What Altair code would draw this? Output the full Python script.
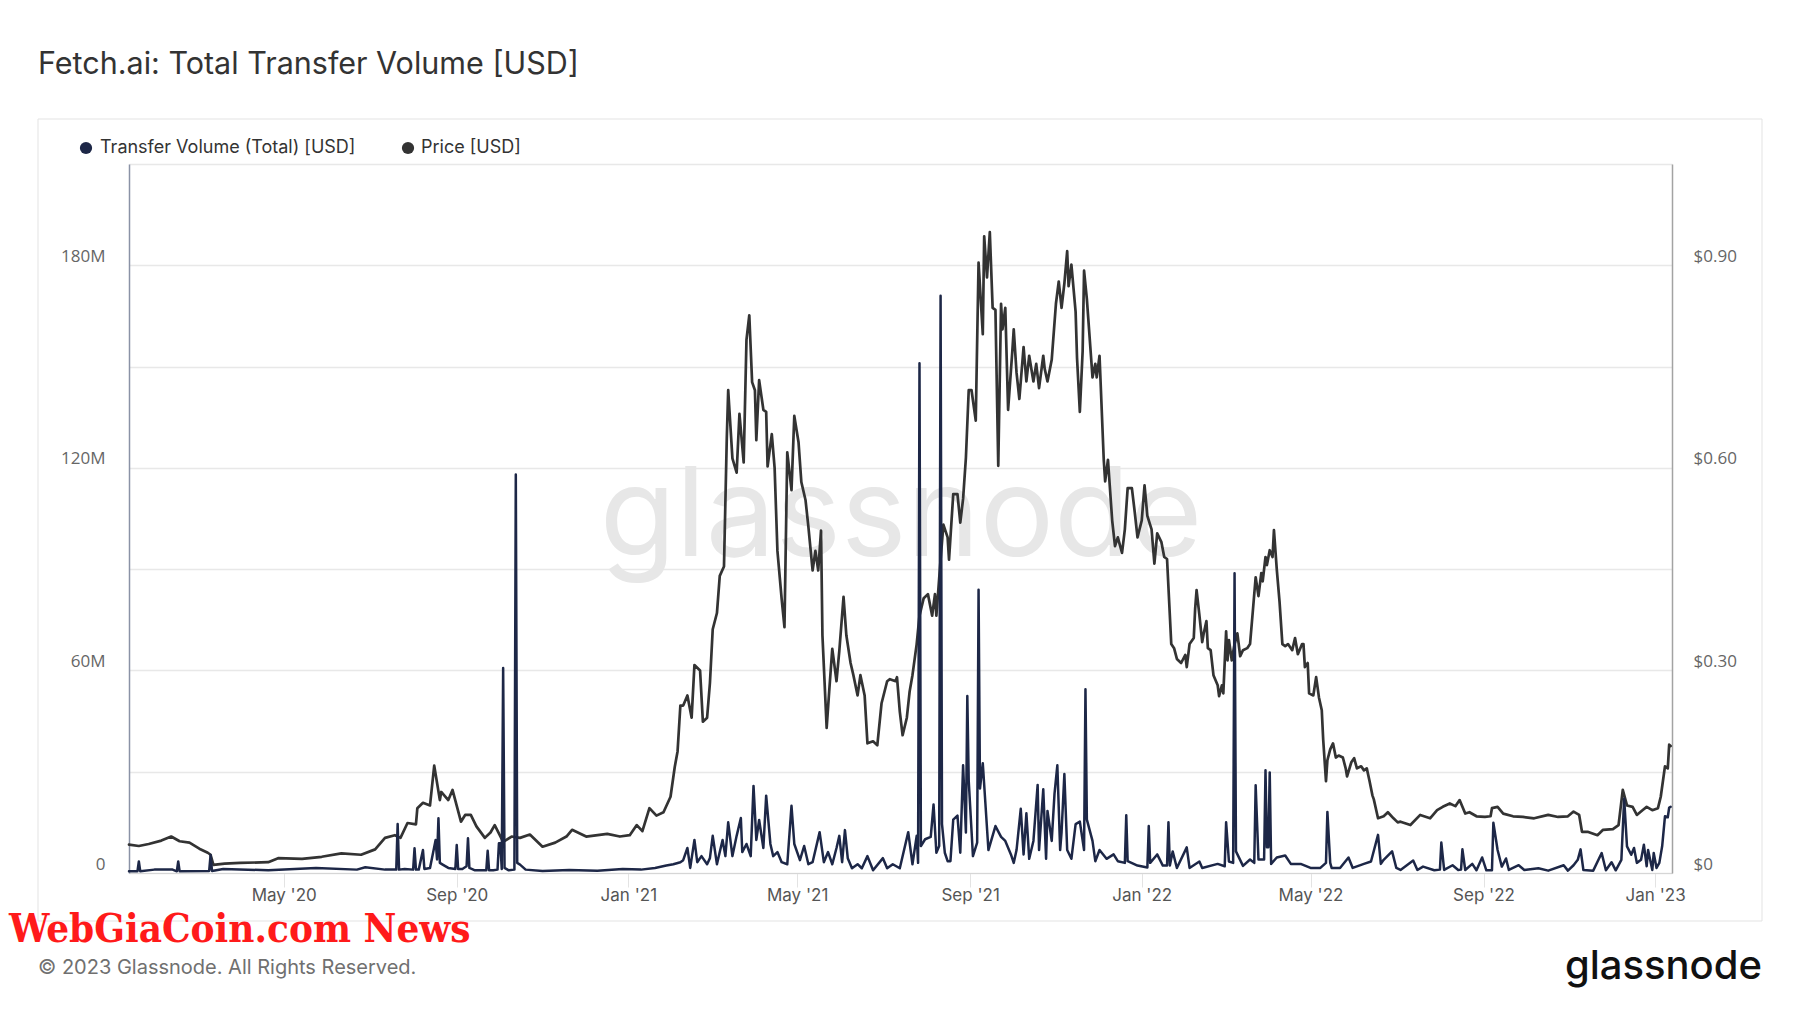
import altair as alt
import pandas as pd

TITLE = "Fetch.ai: Total Transfer Volume [USD]"
SERIES = ["Transfer Volume (Total) [USD]", "Price [USD]"]
COLORS = ["#1d2747", "#333333"]
FOOTER = "\u00a9 2023 Glassnode. All Rights Reserved."
BRAND = "glassnode"
STAMP = "WebGiaCoin.com News"

# Price [USD] (right axis)
price_points = [
    ("2020-01-12", 0.042), ("2020-01-19", 0.040), ("2020-01-26", 0.043), ("2020-02-04", 0.048),
    ("2020-02-11", 0.054), ("2020-02-17", 0.047), ("2020-02-24", 0.045), ("2020-03-02", 0.036),
    ("2020-03-08", 0.030), ("2020-03-10", 0.027), ("2020-03-12", 0.012), ("2020-03-20", 0.014),
    ("2020-03-31", 0.015), ("2020-04-20", 0.016), ("2020-04-27", 0.022), ("2020-05-14", 0.021),
    ("2020-05-28", 0.024), ("2020-06-11", 0.029), ("2020-06-25", 0.027), ("2020-07-05", 0.035),
    ("2020-07-12", 0.052), ("2020-07-19", 0.056), ("2020-07-23", 0.052), ("2020-07-28", 0.074),
    ("2020-08-03", 0.072), ("2020-08-04", 0.096), ("2020-08-08", 0.104), ("2020-08-13", 0.100),
    ("2020-08-16", 0.159), ("2020-08-20", 0.108), ("2020-08-21", 0.120), ("2020-08-26", 0.108),
    ("2020-08-29", 0.123), ("2020-09-04", 0.076), ("2020-09-07", 0.086), ("2020-09-11", 0.086),
    ("2020-09-15", 0.069), ("2020-09-21", 0.052), ("2020-09-25", 0.060), ("2020-09-28", 0.071),
    ("2020-10-04", 0.046), ("2020-10-10", 0.054), ("2020-10-16", 0.052), ("2020-10-23", 0.057),
    ("2020-11-01", 0.039), ("2020-11-10", 0.045), ("2020-11-18", 0.054), ("2020-11-22", 0.064),
    ("2020-12-02", 0.054), ("2020-12-17", 0.058), ("2020-12-26", 0.054), ("2021-01-02", 0.056),
    ("2021-01-07", 0.071), ("2021-01-11", 0.062), ("2021-01-16", 0.096), ("2021-01-21", 0.085),
    ("2021-01-26", 0.090), ("2021-01-31", 0.113), ("2021-02-03", 0.157), ("2021-02-05", 0.180),
    ("2021-02-07", 0.248), ("2021-02-09", 0.248), ("2021-02-12", 0.263), ("2021-02-15", 0.230),
    ("2021-02-17", 0.308), ("2021-02-21", 0.300), ("2021-02-23", 0.224), ("2021-02-26", 0.230),
    ("2021-02-28", 0.281), ("2021-03-02", 0.361), ("2021-03-05", 0.385), ("2021-03-07", 0.440),
    ("2021-03-10", 0.454), ("2021-03-12", 0.644), ("2021-03-13", 0.715), ("2021-03-16", 0.614),
    ("2021-03-18", 0.600), ("2021-03-19", 0.593), ("2021-03-21", 0.680), ("2021-03-24", 0.608),
    ("2021-03-26", 0.790), ("2021-03-28", 0.826), ("2021-03-30", 0.727), ("2021-04-01", 0.715),
    ("2021-04-02", 0.641), ("2021-04-04", 0.730), ("2021-04-07", 0.686), ("2021-04-09", 0.683),
    ("2021-04-10", 0.602), ("2021-04-13", 0.650), ("2021-04-15", 0.600), ("2021-04-17", 0.477),
    ("2021-04-20", 0.406), ("2021-04-22", 0.364), ("2021-04-24", 0.623), ("2021-04-27", 0.567),
    ("2021-04-29", 0.677), ("2021-05-02", 0.638), ("2021-05-04", 0.579), ("2021-05-07", 0.552),
    ("2021-05-09", 0.513), ("2021-05-12", 0.448), ("2021-05-14", 0.477), ("2021-05-16", 0.448),
    ("2021-05-18", 0.507), ("2021-05-19", 0.352), ("2021-05-22", 0.215), ("2021-05-24", 0.275),
    ("2021-05-26", 0.332), ("2021-05-29", 0.284), ("2021-05-31", 0.329), ("2021-06-03", 0.409),
    ("2021-06-05", 0.352), ("2021-06-08", 0.311), ("2021-06-10", 0.293), ("2021-06-13", 0.263),
    ("2021-06-15", 0.293), ("2021-06-18", 0.263), ("2021-06-20", 0.192), ("2021-06-24", 0.195),
    ("2021-06-27", 0.189), ("2021-06-30", 0.251), ("2021-07-04", 0.284), ("2021-07-06", 0.287),
    ("2021-07-10", 0.284), ("2021-07-11", 0.290), ("2021-07-13", 0.239), ("2021-07-15", 0.204),
    ("2021-07-18", 0.230), ("2021-07-20", 0.269), ("2021-07-22", 0.293), ("2021-07-25", 0.339),
    ("2021-07-27", 0.381), ("2021-07-30", 0.407), ("2021-08-02", 0.413), ("2021-08-05", 0.381),
    ("2021-08-07", 0.413), ("2021-08-08", 0.381), ("2021-08-11", 0.464), ("2021-08-13", 0.516),
    ("2021-08-16", 0.497), ("2021-08-17", 0.464), ("2021-08-20", 0.561), ("2021-08-23", 0.561),
    ("2021-08-25", 0.519), ("2021-08-27", 0.554), ("2021-08-29", 0.615), ("2021-08-31", 0.715),
    ("2021-09-02", 0.715), ("2021-09-05", 0.670), ("2021-09-07", 0.904), ("2021-09-10", 0.798),
    ("2021-09-11", 0.943), ("2021-09-13", 0.882), ("2021-09-15", 0.949), ("2021-09-17", 0.837),
    ("2021-09-19", 0.834), ("2021-09-21", 0.603), ("2021-09-23", 0.843), ("2021-09-24", 0.805),
    ("2021-09-26", 0.837), ("2021-09-28", 0.686), ("2021-10-01", 0.773), ("2021-10-02", 0.805),
    ("2021-10-04", 0.741), ("2021-10-06", 0.702), ("2021-10-09", 0.779), ("2021-10-11", 0.728),
    ("2021-10-13", 0.766), ("2021-10-16", 0.728), ("2021-10-18", 0.754), ("2021-10-20", 0.718),
    ("2021-10-23", 0.766), ("2021-10-24", 0.747), ("2021-10-26", 0.728), ("2021-10-29", 0.760),
    ("2021-11-01", 0.843), ("2021-11-03", 0.876), ("2021-11-05", 0.837), ("2021-11-07", 0.873),
    ("2021-11-09", 0.921), ("2021-11-10", 0.869), ("2021-11-12", 0.901), ("2021-11-15", 0.831),
    ("2021-11-16", 0.763), ("2021-11-18", 0.683), ("2021-11-20", 0.773), ("2021-11-21", 0.892),
    ("2021-11-23", 0.850), ("2021-11-25", 0.792), ("2021-11-27", 0.734), ("2021-11-29", 0.754),
    ("2021-11-30", 0.734), ("2021-12-02", 0.766), ("2021-12-05", 0.612), ("2021-12-06", 0.580),
    ("2021-12-08", 0.612), ("2021-12-11", 0.522), ("2021-12-13", 0.484), ("2021-12-15", 0.497),
    ("2021-12-18", 0.474), ("2021-12-20", 0.509), ("2021-12-22", 0.570), ("2021-12-25", 0.570),
    ("2021-12-27", 0.535), ("2021-12-29", 0.497), ("2022-01-01", 0.522), ("2022-01-03", 0.574),
    ("2022-01-05", 0.529), ("2022-01-08", 0.509), ("2022-01-10", 0.458), ("2022-01-12", 0.503),
    ("2022-01-15", 0.490), ("2022-01-17", 0.468), ("2022-01-19", 0.465), ("2022-01-22", 0.339),
    ("2022-01-24", 0.333), ("2022-01-26", 0.317), ("2022-01-29", 0.311), ("2022-02-01", 0.323),
    ("2022-02-02", 0.305), ("2022-02-04", 0.339), ("2022-02-07", 0.348), ("2022-02-08", 0.392),
    ("2022-02-09", 0.419), ("2022-02-11", 0.382), ("2022-02-13", 0.342), ("2022-02-14", 0.354),
    ("2022-02-16", 0.373), ("2022-02-17", 0.333), ("2022-02-19", 0.330), ("2022-02-21", 0.293),
    ("2022-02-24", 0.278), ("2022-02-25", 0.262), ("2022-02-27", 0.278), ("2022-02-28", 0.266),
    ("2022-03-02", 0.358), ("2022-03-03", 0.315), ("2022-03-04", 0.345), ("2022-03-06", 0.315),
    ("2022-03-08", 0.339), ("2022-03-10", 0.355), ("2022-03-12", 0.321), ("2022-03-14", 0.330),
    ("2022-03-17", 0.333), ("2022-03-19", 0.339), ("2022-03-21", 0.388), ("2022-03-23", 0.438),
    ("2022-03-25", 0.410), ("2022-03-27", 0.444), ("2022-03-28", 0.432), ("2022-03-30", 0.468),
    ("2022-03-31", 0.456), ("2022-04-02", 0.478), ("2022-04-04", 0.468), ("2022-04-05", 0.508),
    ("2022-04-07", 0.450), ("2022-04-09", 0.401), ("2022-04-11", 0.339), ("2022-04-13", 0.336),
    ("2022-04-15", 0.339), ("2022-04-18", 0.330), ("2022-04-20", 0.348), ("2022-04-22", 0.324),
    ("2022-04-25", 0.339), ("2022-04-26", 0.339), ("2022-04-27", 0.305), ("2022-04-29", 0.311),
    ("2022-04-30", 0.266), ("2022-05-03", 0.263), ("2022-05-05", 0.290), ("2022-05-07", 0.260),
    ("2022-05-09", 0.241), ("2022-05-10", 0.198), ("2022-05-12", 0.136), ("2022-05-13", 0.167),
    ("2022-05-15", 0.183), ("2022-05-17", 0.192), ("2022-05-19", 0.171), ("2022-05-21", 0.174),
    ("2022-05-24", 0.171), ("2022-05-26", 0.155), ("2022-05-27", 0.143), ("2022-05-30", 0.164),
    ("2022-06-01", 0.170), ("2022-06-03", 0.155), ("2022-06-06", 0.158), ("2022-06-08", 0.152),
    ("2022-06-10", 0.155), ("2022-06-12", 0.136), ("2022-06-14", 0.115), ("2022-06-15", 0.109),
    ("2022-06-18", 0.081), ("2022-06-22", 0.084), ("2022-06-25", 0.090), ("2022-06-29", 0.081),
    ("2022-07-02", 0.075), ("2022-07-04", 0.076), ("2022-07-11", 0.071), ("2022-07-18", 0.086),
    ("2022-07-25", 0.081), ("2022-07-30", 0.093), ("2022-08-03", 0.098), ("2022-08-08", 0.103),
    ("2022-08-12", 0.099), ("2022-08-15", 0.108), ("2022-08-19", 0.088), ("2022-08-22", 0.090),
    ("2022-08-27", 0.084), ("2022-09-02", 0.083), ("2022-09-06", 0.084), ("2022-09-07", 0.096),
    ("2022-09-11", 0.098), ("2022-09-15", 0.088), ("2022-09-22", 0.084), ("2022-09-29", 0.083),
    ("2022-10-07", 0.081), ("2022-10-17", 0.086), ("2022-10-24", 0.083), ("2022-10-31", 0.084),
    ("2022-11-04", 0.091), ("2022-11-08", 0.086), ("2022-11-10", 0.061), ("2022-11-14", 0.061),
    ("2022-11-21", 0.056), ("2022-11-25", 0.064), ("2022-12-02", 0.065), ("2022-12-06", 0.071),
    ("2022-12-09", 0.123), ("2022-12-12", 0.100), ("2022-12-16", 0.098), ("2022-12-19", 0.086),
    ("2022-12-23", 0.093), ("2022-12-26", 0.098), ("2022-12-30", 0.093), ("2023-01-03", 0.096),
    ("2023-01-05", 0.113), ("2023-01-07", 0.143), ("2023-01-08", 0.158), ("2023-01-10", 0.155),
    ("2023-01-11", 0.190), ("2023-01-12", 0.188),
]

# Transfer Volume (Total), millions of USD (left axis)
volume_points = [
    ("2020-01-12", 0.5), ("2020-01-18", 0.5), ("2020-01-19", 3.4), ("2020-01-20", 0.5),
    ("2020-01-30", 1.0), ("2020-02-12", 1.0), ("2020-02-15", 0.5), ("2020-02-16", 3.4),
    ("2020-02-17", 0.5), ("2020-03-09", 0.6), ("2020-03-10", 5.3), ("2020-03-11", 0.6),
    ("2020-03-19", 1.2), ("2020-04-20", 0.8), ("2020-05-24", 1.5), ("2020-06-22", 1.0),
    ("2020-06-28", 1.7), ("2020-07-12", 1.0), ("2020-07-20", 1.0), ("2020-07-21", 14.5),
    ("2020-07-22", 1.0), ("2020-07-26", 1.2), ("2020-08-01", 1.0), ("2020-08-02", 7.3),
    ("2020-08-03", 1.0), ("2020-08-05", 1.0), ("2020-08-08", 6.8), ("2020-08-09", 1.2),
    ("2020-08-13", 1.5), ("2020-08-17", 9.8), ("2020-08-18", 4.0), ("2020-08-19", 16.2),
    ("2020-08-20", 3.0), ("2020-08-22", 2.5), ("2020-08-26", 1.5), ("2020-08-31", 1.2),
    ("2020-09-01", 8.3), ("2020-09-02", 1.2), ("2020-09-05", 1.2), ("2020-09-08", 2.0),
    ("2020-09-09", 10.3), ("2020-09-10", 1.5), ("2020-09-14", 0.8), ("2020-09-22", 0.8),
    ("2020-09-23", 6.6), ("2020-09-24", 0.8), ("2020-09-27", 0.8), ("2020-09-30", 1.0),
    ("2020-10-01", 8.8), ("2020-10-02", 8.8), ("2020-10-03", 1.2), ("2020-10-04", 60.7),
    ("2020-10-05", 1.5), ("2020-10-08", 0.8), ("2020-10-12", 1.0), ("2020-10-13", 118.0),
    ("2020-10-14", 3.0), ("2020-10-16", 2.5), ("2020-10-20", 1.0), ("2020-11-01", 0.6),
    ("2020-11-20", 0.9), ("2020-12-10", 0.7), ("2020-12-28", 1.2), ("2021-01-10", 1.0),
    ("2021-01-20", 1.5), ("2021-01-28", 2.2), ("2021-02-02", 2.6), ("2021-02-07", 3.2),
    ("2021-02-09", 3.8), ("2021-02-12", 7.4), ("2021-02-14", 1.5), ("2021-02-17", 9.8),
    ("2021-02-19", 3.2), ("2021-02-22", 5.0), ("2021-02-26", 2.6), ("2021-02-28", 4.4),
    ("2021-03-02", 11.0), ("2021-03-05", 2.6), ("2021-03-07", 6.2), ("2021-03-09", 9.8),
    ("2021-03-11", 5.0), ("2021-03-13", 15.0), ("2021-03-16", 5.0), ("2021-03-19", 11.0),
    ("2021-03-22", 16.3), ("2021-03-23", 6.2), ("2021-03-26", 8.6), ("2021-03-29", 5.0),
    ("2021-03-31", 25.8), ("2021-04-02", 9.8), ("2021-04-04", 15.7), ("2021-04-07", 7.4),
    ("2021-04-09", 22.9), ("2021-04-12", 8.6), ("2021-04-14", 5.0), ("2021-04-17", 6.2),
    ("2021-04-20", 3.2), ("2021-04-24", 2.6), ("2021-04-27", 19.9), ("2021-04-29", 8.6),
    ("2021-05-03", 3.8), ("2021-05-06", 8.0), ("2021-05-09", 2.6), ("2021-05-12", 3.2),
    ("2021-05-17", 12.1), ("2021-05-20", 3.2), ("2021-05-23", 6.2), ("2021-05-26", 2.6),
    ("2021-05-29", 7.4), ("2021-05-31", 11.0), ("2021-06-02", 3.2), ("2021-06-04", 12.7),
    ("2021-06-06", 4.4), ("2021-06-09", 1.4), ("2021-06-13", 2.6), ("2021-06-16", 1.4),
    ("2021-06-20", 5.0), ("2021-06-24", 0.8), ("2021-07-01", 4.4), ("2021-07-04", 1.4),
    ("2021-07-08", 2.6), ("2021-07-13", 1.4), ("2021-07-19", 12.1), ("2021-07-22", 2.6),
    ("2021-07-25", 11.0), ("2021-07-26", 3.0), ("2021-07-27", 151.0), ("2021-07-28", 8.0),
    ("2021-07-31", 10.0), ("2021-08-04", 10.7), ("2021-08-06", 20.3), ("2021-08-08", 6.0),
    ("2021-08-10", 8.0), ("2021-08-11", 171.0), ("2021-08-12", 14.5), ("2021-08-14", 6.0),
    ("2021-08-16", 3.5), ("2021-08-18", 3.5), ("2021-08-20", 15.8), ("2021-08-23", 17.0),
    ("2021-08-25", 6.0), ("2021-08-27", 31.9), ("2021-08-29", 12.0), ("2021-08-30", 52.4),
    ("2021-08-31", 27.4), ("2021-09-03", 5.0), ("2021-09-06", 9.0), ("2021-09-07", 83.9),
    ("2021-09-08", 25.0), ("2021-09-10", 32.5), ("2021-09-12", 19.7), ("2021-09-14", 6.8),
    ("2021-09-19", 13.9), ("2021-09-23", 10.7), ("2021-09-26", 9.5), ("2021-09-30", 5.5),
    ("2021-10-02", 3.0), ("2021-10-04", 6.8), ("2021-10-07", 19.0), ("2021-10-09", 5.5),
    ("2021-10-11", 17.7), ("2021-10-13", 4.2), ("2021-10-16", 9.5), ("2021-10-19", 26.1),
    ("2021-10-20", 6.8), ("2021-10-23", 24.8), ("2021-10-25", 4.2), ("2021-10-26", 18.4),
    ("2021-10-29", 9.5), ("2021-10-31", 23.5), ("2021-11-02", 31.9), ("2021-11-04", 6.8),
    ("2021-11-05", 12.0), ("2021-11-07", 29.3), ("2021-11-09", 6.8), ("2021-11-12", 4.2),
    ("2021-11-15", 14.5), ("2021-11-18", 15.2), ("2021-11-21", 6.8), ("2021-11-22", 54.4),
    ("2021-11-23", 15.8), ("2021-11-27", 9.5), ("2021-11-29", 3.5), ("2021-12-02", 6.8),
    ("2021-12-07", 4.2), ("2021-12-12", 5.5), ("2021-12-15", 3.5), ("2021-12-20", 3.0),
    ("2021-12-21", 17.1), ("2021-12-22", 3.5), ("2021-12-29", 2.2), ("2022-01-05", 1.6),
    ("2022-01-06", 13.9), ("2022-01-07", 3.0), ("2022-01-12", 5.5), ("2022-01-16", 2.2),
    ("2022-01-19", 2.2), ("2022-01-20", 15.0), ("2022-01-21", 2.2), ("2022-01-23", 6.4),
    ("2022-01-26", 1.5), ("2022-02-02", 7.6), ("2022-02-04", 1.5), ("2022-02-11", 3.4),
    ("2022-02-13", 1.5), ("2022-02-24", 2.7), ("2022-03-01", 2.0), ("2022-03-02", 15.0),
    ("2022-03-04", 3.4), ("2022-03-07", 3.0), ("2022-03-08", 88.8), ("2022-03-09", 6.4),
    ("2022-03-14", 2.1), ("2022-03-19", 4.0), ("2022-03-22", 3.0), ("2022-03-23", 26.0),
    ("2022-03-25", 4.0), ("2022-03-29", 4.0), ("2022-03-30", 30.4), ("2022-03-31", 7.6),
    ("2022-04-01", 7.6), ("2022-04-02", 29.8), ("2022-04-03", 2.7), ("2022-04-07", 4.6),
    ("2022-04-13", 5.2), ("2022-04-17", 2.7), ("2022-04-24", 2.7), ("2022-05-01", 1.5),
    ("2022-05-08", 1.5), ("2022-05-12", 3.0), ("2022-05-13", 18.1), ("2022-05-15", 3.0),
    ("2022-05-16", 1.5), ("2022-05-22", 1.5), ("2022-05-28", 4.6), ("2022-05-31", 1.5),
    ("2022-06-08", 2.7), ("2022-06-13", 3.4), ("2022-06-18", 11.3), ("2022-06-20", 2.7),
    ("2022-06-22", 3.9), ("2022-06-28", 6.4), ("2022-07-01", 1.5), ("2022-07-04", 0.9),
    ("2022-07-13", 3.7), ("2022-07-16", 0.9), ("2022-07-20", 1.9), ("2022-07-28", 0.8),
    ("2022-08-01", 1.0), ("2022-08-02", 9.0), ("2022-08-04", 0.9), ("2022-08-10", 2.3),
    ("2022-08-14", 0.9), ("2022-08-16", 1.0), ("2022-08-17", 7.0), ("2022-08-19", 0.9),
    ("2022-08-24", 2.7), ("2022-08-27", 0.8), ("2022-08-31", 4.6), ("2022-09-03", 0.8),
    ("2022-09-07", 0.8), ("2022-09-08", 14.9), ("2022-09-11", 6.8), ("2022-09-14", 1.9),
    ("2022-09-17", 4.3), ("2022-09-19", 0.9), ("2022-09-26", 2.3), ("2022-09-30", 0.9),
    ("2022-10-10", 1.4), ("2022-10-17", 0.7), ("2022-10-28", 2.3), ("2022-10-31", 0.7),
    ("2022-11-04", 2.3), ("2022-11-07", 3.9), ("2022-11-09", 7.0), ("2022-11-11", 0.9),
    ("2022-11-18", 0.7), ("2022-11-24", 5.9), ("2022-11-27", 0.8), ("2022-12-01", 3.2),
    ("2022-12-04", 0.8), ("2022-12-08", 3.9), ("2022-12-10", 22.0), ("2022-12-12", 7.9),
    ("2022-12-15", 5.4), ("2022-12-17", 7.4), ("2022-12-19", 3.0), ("2022-12-22", 3.9),
    ("2022-12-24", 8.4), ("2022-12-26", 2.0), ("2022-12-27", 6.8), ("2022-12-30", 0.9),
    ("2022-12-31", 5.9), ("2023-01-02", 1.5), ("2023-01-04", 3.0), ("2023-01-06", 7.9),
    ("2023-01-08", 16.8), ("2023-01-10", 16.5), ("2023-01-11", 19.4), ("2023-01-12", 19.6),
]

x_tick_months = [(2020, 5), (2020, 9), (2021, 1), (2021, 5), (2021, 9),
                 (2022, 1), (2022, 5), (2022, 9), (2023, 1)]
volume_ticks = [0, 30, 60, 90, 120, 150, 180, 210]
price_ticks = [0, 0.3, 0.6, 0.9]

price_df = pd.DataFrame(price_points, columns=["date", "price"])
volume_df = pd.DataFrame(volume_points, columns=["date", "volume"])

x_scale = alt.Scale(
    type="utc",
    domain=[alt.DateTime(year=2020, month=1, date=12, utc=True),
            alt.DateTime(year=2023, month=1, date=13, utc=True)],
)
x_axis = alt.Axis(
    values=[alt.DateTime(year=y, month=m, date=1, utc=True) for y, m in x_tick_months],
    labelExpr="utcFormat(datum.value, \"%b '%y\")",
    grid=False, domain=True, domainColor="#d6d6d6", domainWidth=1,
    ticks=True, tickSize=14, tickColor="#e3e3e3", tickWidth=1,
    labelFont="Inter", labelFontSize=17, labelColor="#555555",
    labelPadding=8, labelBaseline="middle", labelFlush=False, labelOverlap=False,
    title="",
)

price_line = alt.Chart(price_df).mark_line(
    color=COLORS[1], strokeWidth=2.7, strokeJoin="round", strokeCap="round"
).encode(
    x=alt.X("date:T", scale=x_scale, axis=x_axis),
    y=alt.Y("price:Q",
            scale=alt.Scale(domain=[0, 1.05], nice=False, zero=True),
            axis=alt.Axis(orient="right", values=price_ticks,
                          labelExpr="datum.value == 0 ? '$0' : '$' + format(datum.value, '.2f')",
                          grid=False, domain=True, domainColor="#a3a3a3", domainWidth=1.5,
                          ticks=False, labelPadding=21, labelOffset=-9,
                          labelFont="Open Sans", labelFontSize=17, labelColor="#666666",
                          labelBaseline="middle", labelOverlap=False, title="")),
)

volume_line = alt.Chart(volume_df).mark_line(
    color=COLORS[0], strokeWidth=2.5, strokeJoin="round", strokeCap="round"
).encode(
    x=alt.X("date:T", scale=x_scale, axis=x_axis),
    y=alt.Y("volume:Q",
            scale=alt.Scale(domain=[0, 210], nice=False, zero=True),
            axis=alt.Axis(orient="left", values=volume_ticks,
                          labelExpr="datum.value == 0 ? '0' : (datum.value % 60 == 0 ? datum.value + 'M' : '')",
                          grid=True, gridColor="#e8e8e8", gridWidth=1.3,
                          domain=True, domainColor="#8a92a6", domainWidth=1.5,
                          ticks=False, labelPadding=24, labelOffset=-9,
                          labelFont="Open Sans", labelFontSize=17, labelColor="#666666",
                          labelBaseline="middle", labelOverlap=False, title="")),
)


def text_layer(txt, x, y, **kw):
    return alt.Chart(pd.DataFrame({"t": [txt]})).mark_text(**kw).encode(
        text="t:N", x=alt.value(x), y=alt.value(y))


frame = alt.Chart(pd.DataFrame({"k": [0]})).mark_rect(
    fillOpacity=0, stroke="#e3e3e3", strokeWidth=1
).encode(x=alt.value(-91), x2=alt.value(1633), y=alt.value(-45), y2=alt.value(757))

watermark = text_layer(BRAND, 772, 392, font="Inter", fontSize=124, color="#e7e7e7",
                       align="center", baseline="alphabetic")

title = text_layer(TITLE, -91, -99, font="Inter", fontSize=30.5, color="#333333",
                   align="left", baseline="middle")

legend_dots = [
    alt.Chart(pd.DataFrame({"s": [SERIES[i]]})).mark_point(
        filled=True, shape="circle", size=150, color=COLORS[i], opacity=1
    ).encode(x=alt.value(px), y=alt.value(-16))
    for i, px in enumerate([-43, 279])
]
legend_texts = [
    text_layer(SERIES[i], px, -16, font="Inter", fontSize=18, color="#333333",
               align="left", baseline="middle")
    for i, px in enumerate([-29, 292])
]

footer = text_layer(FOOTER, -91, 804, font="Inter", fontSize=20, color="#707070",
                    align="left", baseline="middle")
brand = text_layer(BRAND, 1633, 803, font="Inter", fontSize=40, fontWeight=500,
                   color="#111111", align="right", baseline="middle")
stamp = text_layer(STAMP, -120, 778, font="DejaVu Serif Condensed", fontSize=40,
                   fontWeight="bold", color="#ff1a1a", align="left", baseline="alphabetic")

chart = alt.layer(
    frame, watermark, price_line, volume_line, *legend_dots, *legend_texts,
    title, footer, brand, stamp,
).resolve_scale(
    y="independent"
).properties(
    width=1543, height=709,
    autosize=alt.AutoSizeParams(type="none"),
    padding={"left": 121, "top": 156, "right": 110, "bottom": 115},
    background="white",
).configure_view(stroke="transparent")

chart.save("out.html", embed_options={"renderer": "svg", "actions": False})
